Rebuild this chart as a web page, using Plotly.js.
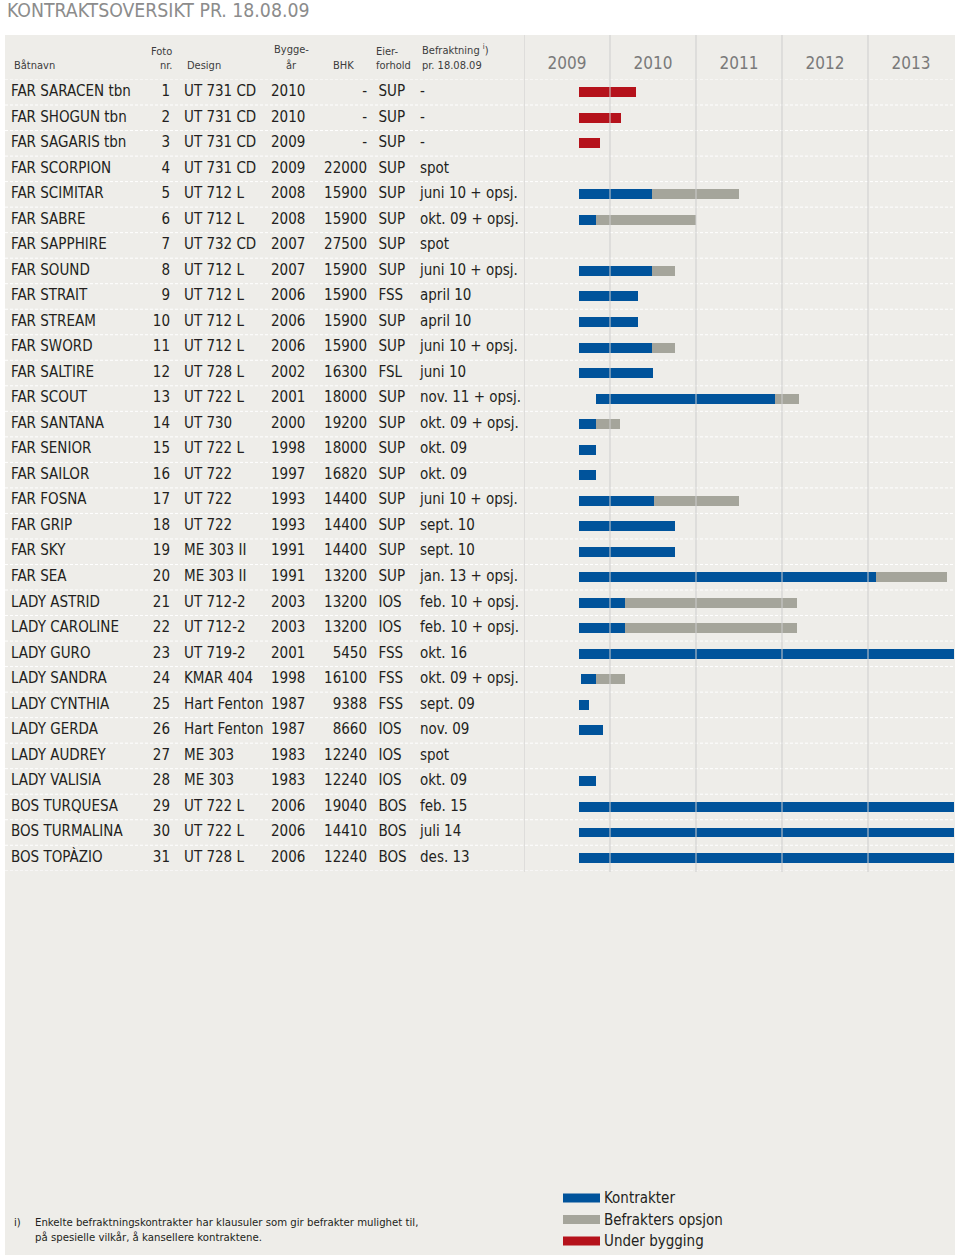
<!DOCTYPE html>
<html>
<head>
<meta charset="utf-8">
<script src="https://cdn.plot.ly/plotly-3.0.1.min.js"></script>
<style>html,body{margin:0;padding:0;background:#fff;}#chart{width:960px;height:1259px;}</style>
</head>
<body>
<div id="chart"></div>
<script>
// ---------- DATA ----------
const boats = ["FAR SARACEN tbn","FAR SHOGUN tbn","FAR SAGARIS tbn","FAR SCORPION","FAR SCIMITAR","FAR SABRE","FAR SAPPHIRE","FAR SOUND","FAR STRAIT","FAR STREAM","FAR SWORD","FAR SALTIRE","FAR SCOUT","FAR SANTANA","FAR SENIOR","FAR SAILOR","FAR FOSNA","FAR GRIP","FAR SKY","FAR SEA","LADY ASTRID","LADY CAROLINE","LADY GURO","LADY SANDRA","LADY CYNTHIA","LADY GERDA","LADY AUDREY","LADY VALISIA","BOS TURQUESA","BOS TURMALINA","BOS TOPÀZIO"];
const fotoNr = [1,2,3,4,5,6,7,8,9,10,11,12,13,14,15,16,17,18,19,20,21,22,23,24,25,26,27,28,29,30,31];
const design = ["UT 731 CD","UT 731 CD","UT 731 CD","UT 731 CD","UT 712 L","UT 712 L","UT 732 CD","UT 712 L","UT 712 L","UT 712 L","UT 712 L","UT 728 L","UT 722 L","UT 730","UT 722 L","UT 722","UT 722","UT 722","ME 303 II","ME 303 II","UT 712-2","UT 712-2","UT 719-2","KMAR 404","Hart Fenton","Hart Fenton","ME 303","ME 303","UT 722 L","UT 722 L","UT 728 L"];
const byggeAar = [2010,2010,2009,2009,2008,2008,2007,2007,2006,2006,2006,2002,2001,2000,1998,1997,1993,1993,1991,1991,2003,2003,2001,1998,1987,1987,1983,1983,2006,2006,2006];
const bhk = ["-","-","-","22000","15900","15900","27500","15900","15900","15900","15900","16300","18000","19200","18000","16820","14400","14400","14400","13200","13200","13200","5450","16100","9388","8660","12240","12240","19040","14410","12240"];
const eierforhold = ["SUP","SUP","SUP","SUP","SUP","SUP","SUP","SUP","FSS","SUP","SUP","FSL","SUP","SUP","SUP","SUP","SUP","SUP","SUP","SUP","IOS","IOS","FSS","FSS","FSS","IOS","IOS","IOS","BOS","BOS","BOS"];
const befraktning = ["-","-","-","spot","juni 10 + opsj.","okt. 09 + opsj.","spot","juni 10 + opsj.","april 10","april 10","juni 10 + opsj.","juni 10","nov. 11 + opsj.","okt. 09 + opsj.","okt. 09","okt. 09","juni 10 + opsj.","sept. 10","sept. 10","jan. 13 + opsj.","feb. 10 + opsj.","feb. 10 + opsj.","okt. 16","okt. 09 + opsj.","sept. 09","nov. 09","spot","okt. 09","feb. 15","juli 14","des. 13"];

// Gantt periods (decimal years)
const contractStart = [null,null,null,null,2009.64,2009.64,null,2009.64,2009.64,2009.64,2009.64,2009.64,2009.84,2009.64,2009.64,2009.64,2009.64,2009.64,2009.64,2009.64,2009.64,2009.64,2009.64,2009.66,2009.64,2009.64,null,2009.64,2009.64,2009.64,2009.64];
const contractEnd   = [null,null,null,null,2010.49,2009.84,null,2010.49,2010.33,2010.33,2010.49,2010.50,2011.92,2009.84,2009.84,2009.84,2010.51,2010.75,2010.75,2013.09,2010.17,2010.17,2016.79,2009.84,2009.75,2009.92,null,2009.84,2015.12,2014.54,2014.00];
const optionEnd     = [null,null,null,null,2011.50,2011.00,null,2010.75,null,null,2010.75,null,2012.20,2010.12,null,null,2011.50,null,null,2013.92,2012.17,2012.17,null,2010.17,null,null,null,null,null,null,null];
const buildStart    = [2009.64,2009.64,2009.64,null,null,null,null,null,null,null,null,null,null,null,null,null,null,null,null,null,null,null,null,null,null,null,null,null,null,null,null];
const buildEnd      = [2010.30,2010.13,2009.88,null,null,null,null,null,null,null,null,null,null,null,null,null,null,null,null,null,null,null,null,null,null,null,null,null,null,null,null];

const yearTicks = [2009.5,2010.5,2011.5,2012.5,2013.5];
const yearLabels = ["2009","2010","2011","2012","2013"];
const yearLines = [2009,2010,2011,2012,2013];

const seriesNames = ["Kontrakter","Befrakters opsjon","Under bygging"];
const seriesColors = ["#00539b","#a5a59b","#b5121b"];

// ---------- HELPERS ----------
const W = 960, H = 1259;
const px = v => v / W;
const py = v => 1 - v / H;
const NARROW = '"Liberation Sans Narrow", "DejaVu Sans Condensed", "Arial Narrow", sans-serif';
const TXT = '#231f20';
const diff = (a, b) => a.map((v, i) => (v == null || b[i] == null) ? null : v - b[i]);

const rowFont = {family: NARROW, size: 15, color: TXT};

function textCol(values, xpos, pos) {
  return {
    type: 'scatter', mode: 'text', xaxis: 'x2', yaxis: 'y', cliponaxis: false,
    x: boats.map(() => xpos), y: boats, text: values.map(String),
    textposition: pos, textfont: rowFont, hoverinfo: 'skip', showlegend: false
  };
}

const traces = [
  {type: 'bar', orientation: 'h', y: boats, base: contractStart, x: diff(contractEnd, contractStart),
   marker: {color: seriesColors[0], line: {width: 0}}, width: 0.39, showlegend: false, name: seriesNames[0]},
  {type: 'bar', orientation: 'h', y: boats, base: contractEnd, x: diff(optionEnd, contractEnd),
   marker: {color: seriesColors[1], line: {width: 0}}, width: 0.39, showlegend: false, name: seriesNames[1]},
  {type: 'bar', orientation: 'h', y: boats, base: buildStart, x: diff(buildEnd, buildStart),
   marker: {color: seriesColors[2], line: {width: 0}}, width: 0.39, showlegend: false, name: seriesNames[2]},
  textCol(boats, 11, 'middle right'),
  textCol(fotoNr, 170, 'middle left'),
  textCol(design, 184, 'middle right'),
  textCol(byggeAar, 271, 'middle right'),
  textCol(bhk, 367, 'middle left'),
  textCol(eierforhold, 378.5, 'middle right'),
  textCol(befraktning, 420, 'middle right')
];

// ---------- SHAPES ----------
const shapes = [];
shapes.push({type: 'rect', xref: 'paper', yref: 'paper', x0: px(5), x1: px(955), y0: py(1255), y1: py(35),
  fillcolor: '#eeede9', line: {width: 0}, layer: 'below'});
for (let i = 0; i <= boats.length; i++) {
  shapes.push({type: 'line', xref: 'paper', yref: 'y', x0: px(5), x1: px(955), y0: i - 0.5, y1: i - 0.5,
    line: {color: '#ffffff', width: 1, dash: '3px,2px'}, layer: 'below'});
}
yearLines.forEach(v => shapes.push({type: 'line', xref: 'x', yref: 'paper', x0: v, x1: v, y0: py(872), y1: py(35),
  line: {color: '#cdcdcd', width: 1}, layer: 'above'}));

// ---------- ANNOTATIONS (table header / footnote / legend) ----------
const hFont = {family: NARROW, size: 11, color: '#3c3c3c'};
function hdr(text, x, y, anchor) {
  return {text, x, y: py(y), xref: 'x2', yref: 'paper', xanchor: anchor, yanchor: 'middle',
    showarrow: false, font: hFont};
}
const annotations = [
  hdr('Båtnavn', 12, 65, 'left'),
  hdr('Foto', 174, 51, 'right'),
  hdr('nr.', 174, 65, 'right'),
  hdr('Design', 185, 65, 'left'),
  hdr('Bygge-', 291, 49, 'center'),
  hdr('år', 291, 65, 'center'),
  hdr('BHK', 356, 65, 'right'),
  hdr('Eier-', 374, 51, 'left'),
  hdr('forhold', 374, 65, 'left'),
  hdr('Befraktning <sup>i</sup>)', 420, 49, 'left'),
  hdr('pr. 18.08.09', 420, 65, 'left'),
  {text: 'i)', x: px(12), y: py(1222), xref: 'paper', yref: 'paper', xanchor: 'left', yanchor: 'middle',
   showarrow: false, font: {family: NARROW, size: 11.3, color: TXT}},
  {text: 'Enkelte befraktningskontrakter har klausuler som gir befrakter mulighet til,<br>på spesielle vilkår, å kansellere kontraktene.',
   x: px(33), y: py(1230), xref: 'paper', yref: 'paper', xanchor: 'left', yanchor: 'middle', align: 'left',
   showarrow: false, font: {family: NARROW, size: 11.3, color: TXT}}
];

// manual legend
seriesNames.forEach((n, i) => {
  const cy = 1198 + 21.5 * i;
  shapes.push({type: 'rect', xref: 'paper', yref: 'paper', x0: px(563), x1: px(600), y0: py(cy + 4.5), y1: py(cy - 4.5),
    fillcolor: seriesColors[i], line: {width: 0}, layer: 'above'});
  annotations.push({text: n, x: px(602), y: py(cy), xref: 'paper', yref: 'paper', xanchor: 'left', yanchor: 'middle',
    showarrow: false, font: {family: NARROW, size: 15, color: TXT}});
});

const layout = {
  width: W, height: H,
  margin: {l: 0, r: 0, t: 0, b: 0},
  paper_bgcolor: '#ffffff', plot_bgcolor: 'rgba(0,0,0,0)',
  title: {text: 'KONTRAKTSOVERSIKT PR. 18.08.09', x: px(7), xanchor: 'left', xref: 'paper',
    y: 1 - 10.5 / H, yanchor: 'middle', yref: 'container',
    font: {family: NARROW, size: 19.3, color: '#8c8c8c'}},
  barmode: 'overlay',
  bargap: 0,
  showlegend: false,
  xaxis: {domain: [px(524), px(954)], range: [2009, 2014], side: 'top', anchor: 'y',
    tickvals: yearTicks, ticktext: yearLabels, ticks: 'outside', ticklen: 3, tickcolor: 'rgba(0,0,0,0)',
    tickfont: {family: NARROW, size: 17, color: '#7a7a7a'},
    showgrid: false, zeroline: false, showline: false, fixedrange: true},
  xaxis2: {domain: [0, px(524)], range: [0, 524], anchor: 'y', visible: false, fixedrange: true},
  yaxis: {domain: [py(870.8), py(79.5)], type: 'category', categoryorder: 'array', categoryarray: boats,
    range: [boats.length - 0.5, -0.5], showticklabels: false, showgrid: false, zeroline: false,
    showline: false, ticks: '', fixedrange: true},
  shapes, annotations
};

Plotly.newPlot('chart', traces, layout, {displayModeBar: false, staticPlot: true});
</script>
</body>
</html>
